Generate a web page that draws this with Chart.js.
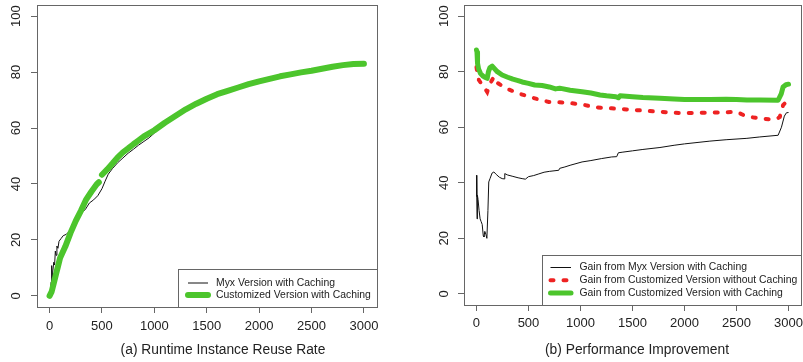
<!DOCTYPE html>
<html><head><meta charset="utf-8">
<script src="https://cdn.jsdelivr.net/npm/chart.js@4.4.1/dist/chart.umd.min.js"></script>
<style>
html,body{margin:0;padding:0;background:#fff;width:803px;height:362px;overflow:hidden;}
#wa{position:absolute;left:0;top:0;width:400px;height:362px;}
#wb{position:absolute;left:400px;top:0;width:403px;height:362px;}
canvas{display:block;}
</style></head><body>
<div id="wa"><canvas id="ca" width="400" height="362"></canvas></div>
<div id="wb"><canvas id="cb" width="403" height="362"></canvas></div>
<script>
// ---- tick labels / texts ----
const xTicks = [0, 500, 1000, 1500, 2000, 2500, 3000];
const yTicks = [0, 20, 40, 60, 80, 100];
const captionA = '(a) Runtime Instance Reuse Rate';
const captionB = '(b) Performance Improvement';
const labelsA = ['Myx Version with Caching', 'Customized Version with Caching'];
const labelsB = ['Gain from Myx Version with Caching', 'Gain from Customized Version without Caching', 'Gain from Customized Version with Caching'];

// ---- (a) Runtime Instance Reuse Rate ----
const reuseMyxX = [0,8,15,20,24,30,40,48,55,62,70,80,90,110,130,160,200,240,280,310,340,380,420,460,500,530,560,600,650,700,750,800,850,900,950,1000,1100,1200,1300,1400,1500,1600,1700,1800,1900,2000,2100,2200,2300,2400,2500,2600,2700,2800,2900,3000];
const reuseMyxY = [0,2,5,10.8,6.5,8.5,12,11,16,14.5,17.8,17,19.5,20.5,21.5,22,23.5,26,28.5,30,30.8,33.2,34.3,35.8,38.3,41,43.5,45.5,47.6,49.3,51,52.4,53.9,55.2,56.5,58.2,61.3,63.6,66.0,68.1,70.0,71.6,72.9,74.1,75.3,76.3,77.2,78.1,78.8,79.5,80.1,80.8,81.5,82.1,82.6,83.0];
const reuseCustX = [0,20,40,60,80,100,150,200,250,300,350,400,450,470,480,500,550,600,650,700,750,800,850,900,950,1000,1100,1200,1300,1400,1500,1600,1700,1800,1900,2000,2100,2200,2300,2400,2500,2600,2700,2800,2900,3000];
const reuseCustY = [0,1.5,4.5,7.5,10.5,13.5,17.6,22.5,26.8,30.5,34.5,37.3,39.9,40.6,null,43.3,45.2,47.3,49.5,51.3,52.7,54.2,55.6,57,58.1,59.2,61.9,64.3,66.7,68.7,70.5,72.1,73.3,74.5,75.7,76.7,77.6,78.5,79.2,79.9,80.5,81.2,81.9,82.5,82.9,83];

// ---- (b) Performance Improvement ----
const perfMyxX = [0,3,6,9,15,25,35,45,55,65,72,80,90,100,110,118,130,150,167,190,220,247,265,272,300,350,400,439,470,500,550,600,650,700,791,800,850,900,1015,1100,1200,1300,1348,1364,1400,1500,1600,1764,1900,2000,2244,2400,2600,2724,2900,2932,2960,2980,3000];
const perfMyxY = [42.7,35,27,35.5,34,30,27,26,25,21,20.5,22.5,21.5,20,30,40.3,41.5,43.5,43.9,43,42,41.5,41.4,43.3,42.8,42.3,41.8,41.5,41.3,42.2,42.6,43.2,43.8,44.1,44.5,45.2,45.7,46.3,47.5,48,48.7,49.3,49.4,50.8,51,51.5,52,52.7,53.5,54,55,55.5,56,56.5,57.1,60,64,65.2,65.3];
const perfNoCacheX = [0,10,23,50,80,103,115,135,167,200,240,279,350,420,503,600,695,800,919,1015,1124,1200,1300,1444,1600,1750,1892,2000,2200,2400,2500,2560,2628,2720,2820,2900,2916,2948,2975,3000];
const perfNoCacheY = [81.7,79,77,75.5,74,72.7,74,76,78.1,76,75,74,73,72,71,70,69.1,69,68.6,68.2,67.3,67,66.8,66.4,66,65.6,65.2,65.1,65.2,65.4,65.5,64.5,63.7,63.2,62.8,63.3,63.7,68,69,70];
const perfCacheX = [0,5,10,20,38,60,80,103,115,130,151,175,200,247,300,350,400,439,500,560,631,700,760,800,823,900,1015,1100,1188,1250,1340,1364,1380,1500,1600,1764,1900,2000,2244,2400,2500,2600,2724,2900,2930,2948,2975,3000];
const perfCacheY = [87.8,87,83,81,79.4,78.5,78,77.6,80,81.5,82,81,80,78.8,78,77.3,76.8,76.3,75.8,75.2,75,74.5,73.8,74,73.9,73.3,72.8,72.3,71.6,71.3,71,70.6,71.3,71,70.7,70.4,70.2,70,70,70.1,70,69.8,69.8,69.7,72,74.5,75.3,75.5];

const pts = (xs, ys) => xs.map((x, i) => ({x: x, y: ys[i]}));

const FAMILY = "'Liberation Sans', Arial, Helvetica, sans-serif";
const TXT = '#222';
const FRAME = '#666';
const GREEN = '#4cc52c';
const RED = '#ee2222';
const BLACK = '#111';

const rFrame = {
  id: 'rFrame',
  afterDatasetsDraw(chart) {
    const {ctx, chartArea: a} = chart;
    ctx.save();
    ctx.strokeStyle = FRAME; ctx.lineWidth = 1;
    const l = Math.round(a.left), t = Math.round(a.top), r = Math.round(a.right), b = Math.round(a.bottom);
    ctx.strokeRect(l + 0.5, t + 0.5, r - l, b - t);
    ctx.restore();
  }
};

const rLegend = {
  id: 'rLegend',
  afterDraw(chart, args, o) {
    const {ctx, chartArea: a} = chart;
    const R = Math.round(a.right), B = Math.round(a.bottom);
    const L = Math.round(a.right - o.w), T = Math.round(a.bottom - o.h);
    ctx.save();
    ctx.fillStyle = '#fff';
    ctx.fillRect(L, T, R - L, B - T);
    ctx.strokeStyle = FRAME; ctx.lineWidth = 1;
    ctx.strokeRect(L + 0.5, T + 0.5, R - L, B - T);
    ctx.font = o.font;
    ctx.textBaseline = 'middle';
    ctx.textAlign = 'left';
    chart.data.datasets.forEach((ds, i) => {
      const y = T + o.first + i * o.gap;
      ctx.beginPath();
      ctx.strokeStyle = ds.borderColor;
      ctx.lineWidth = ds.borderWidth;
      ctx.lineCap = ds.borderCapStyle || 'butt';
      ctx.setLineDash(ds.borderDash || []);
      ctx.moveTo(L + o.s0, y); ctx.lineTo(L + o.s1, y);
      ctx.stroke();
      ctx.setLineDash([]);
      ctx.fillStyle = TXT;
      ctx.fillText(ds.label, L + o.tx, y);
    });
    ctx.restore();
  }
};

const rCaption = {
  id: 'rCaption',
  afterDraw(chart, args, o) {
    const {ctx} = chart;
    ctx.save();
    ctx.font = o.font;
    ctx.fillStyle = TXT;
    ctx.textAlign = 'center';
    ctx.textBaseline = 'middle';
    ctx.fillText(o.text, o.x, o.y);
    ctx.restore();
  }
};

function makeScales(yWidth, xHeight, yPad, xPad) {
  const tickFont = {family: FAMILY, size: 13};
  return {
    x: {
      type: 'linear', min: -120, max: 3120,
      afterBuildTicks: s => { s.ticks = xTicks.map(v => ({value: v})); },
      afterFit: s => { s.height = xHeight; s.paddingLeft = 0; s.paddingRight = 0; },
      ticks: {font: tickFont, color: TXT, padding: xPad, maxRotation: 0, minRotation: 0, autoSkip: false, callback: v => String(v)},
      grid: {drawOnChartArea: false, drawTicks: true, tickLength: 6, color: FRAME, lineWidth: 1},
      border: {display: false}
    },
    y: {
      type: 'linear', min: -4, max: 104,
      afterBuildTicks: s => { s.ticks = yTicks.map(v => ({value: v})); },
      afterFit: s => { s.width = yWidth; s.paddingTop = 0; s.paddingBottom = 0; },
      ticks: {font: tickFont, color: TXT, padding: yPad, minRotation: 90, maxRotation: 90, crossAlign: 'center', autoSkip: false, callback: v => String(v)},
      grid: {drawOnChartArea: false, drawTicks: true, tickLength: 6, color: FRAME, lineWidth: 1},
      border: {display: false}
    }
  };
}

const common = {
  responsive: false,
  animation: false,
  devicePixelRatio: 1,
  events: [],
  elements: {point: {radius: 0}, line: {tension: 0}},
};

new Chart(document.getElementById('ca'), {
  type: 'line',
  data: {
    datasets: [
      {label: labelsA[0], data: pts(reuseMyxX, reuseMyxY), borderColor: BLACK, borderWidth: 1, order: 1, fill: false},
      {label: labelsA[1], data: pts(reuseCustX, reuseCustY), borderColor: GREEN, borderWidth: 6, borderCapStyle: 'round', borderJoinStyle: 'round', order: 0, fill: false, spanGaps: false}
    ]
  },
  options: Object.assign({}, common, {
    layout: {padding: {top: 5, right: 23.5, bottom: 0, left: 0}},
    scales: makeScales(37, 55, 3.5, 6),
    plugins: {
      legend: {display: false}, tooltip: {enabled: false},
      rLegend: {w: 198.5, h: 38, first: 14, gap: 12, s0: 10, s1: 30, tx: 38, font: "10.4px " + FAMILY},
      rCaption: {text: captionA, x: 223, y: 350, font: "13.8px " + FAMILY}
    }
  }),
  plugins: [rFrame, rLegend, rCaption]
});

new Chart(document.getElementById('cb'), {
  type: 'line',
  data: {
    datasets: [
      {label: labelsB[0], data: pts(perfMyxX, perfMyxY), borderColor: BLACK, borderWidth: 1, order: 2, fill: false},
      {label: labelsB[1], data: pts(perfNoCacheX, perfNoCacheY), borderColor: RED, borderWidth: 4, borderDash: [3, 10], borderCapStyle: 'round', order: 1, fill: false},
      {label: labelsB[2], data: pts(perfCacheX, perfCacheY), borderColor: GREEN, borderWidth: 5, borderCapStyle: 'round', borderJoinStyle: 'round', order: 0, fill: false}
    ]
  },
  options: Object.assign({}, common, {
    layout: {padding: {top: 5, right: 2, bottom: 0, left: 0}},
    scales: makeScales(64, 57, 2.5, 5),
    plugins: {
      legend: {display: false}, tooltip: {enabled: false},
      rLegend: {w: 259, h: 50, first: 12.5, gap: 12.7, s0: 8.5, s1: 29, tx: 37.5, font: "10.4px " + FAMILY},
      rCaption: {text: captionB, x: 237, y: 350, font: "13.8px " + FAMILY}
    }
  }),
  plugins: [rFrame, rLegend, rCaption]
});
</script>
</body></html>
